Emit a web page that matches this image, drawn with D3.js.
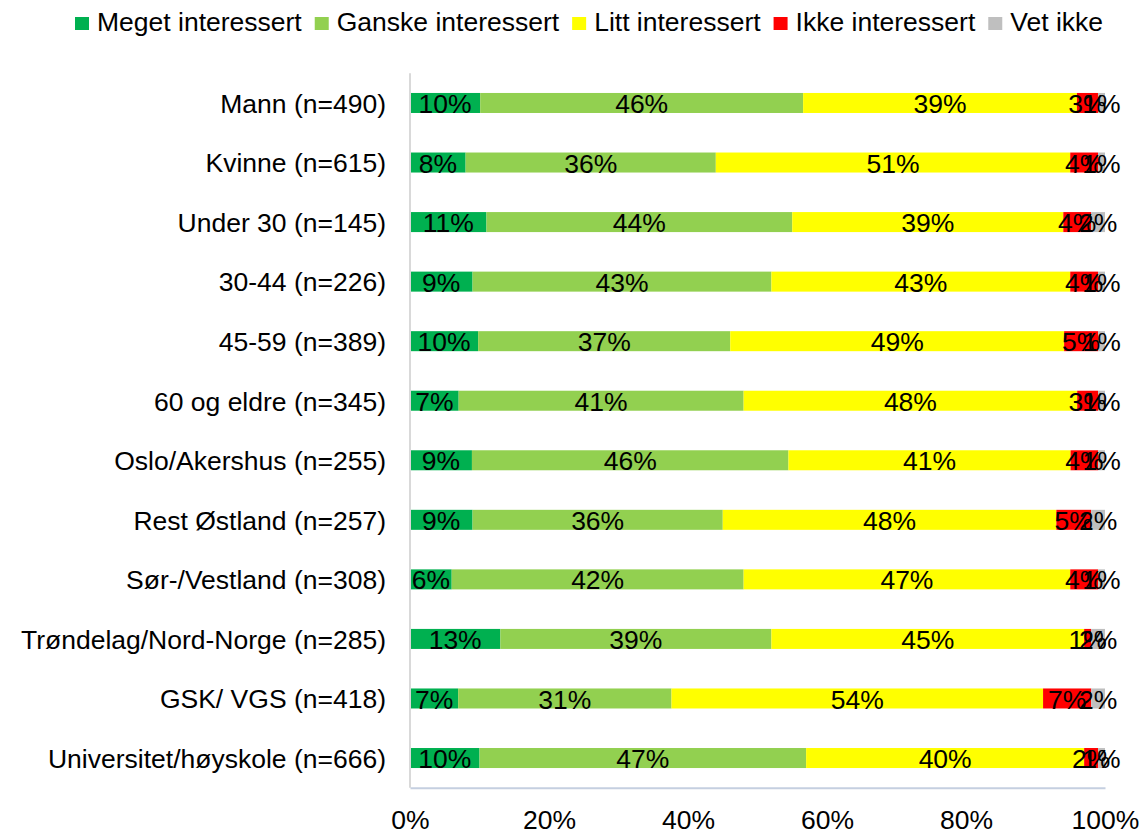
<!DOCTYPE html>
<html>
<head>
<meta charset="utf-8">
<script src="https://cdn.jsdelivr.net/npm/d3@7"></script>
<style>
  html, body { margin: 0; padding: 0; background: #ffffff; }
  svg { display: block; font-family: "Liberation Sans", Arial, sans-serif; }
</style>
</head>
<body>
<svg id="chart" width="1142" height="834"></svg>
<script>
const categories = [
  "Mann (n=490)",
  "Kvinne (n=615)",
  "Under 30 (n=145)",
  "30-44 (n=226)",
  "45-59 (n=389)",
  "60 og eldre (n=345)",
  "Oslo/Akershus (n=255)",
  "Rest Østland (n=257)",
  "Sør-/Vestland (n=308)",
  "Trøndelag/Nord-Norge (n=285)",
  "GSK/ VGS (n=418)",
  "Universitet/høyskole (n=666)"
];
const seriesNames = ["Meget interessert", "Ganske interessert", "Litt interessert", "Ikke interessert", "Vet ikke"];
const meget  = [10, 8, 11, 9, 10, 7, 9, 9, 6, 13, 7, 10];
const ganske = [46, 36, 44, 43, 37, 41, 46, 36, 42, 39, 31, 47];
const litt   = [39, 51, 39, 43, 49, 48, 41, 48, 47, 45, 54, 40];
const ikke   = [3, 4, 4, 4, 5, 3, 4, 5, 4, 1, 7, 2];
const vetIkke = [1, 1, 2, 1, 1, 1, 1, 2, 1, 2, 2, 1];
const tickValues = [0, 0.2, 0.4, 0.6, 0.8, 1.0];
const colors = ["#00B050", "#92D050", "#FFFF00", "#FF0000", "#BFBFBF"];

const seriesArrays = [meget, ganske, litt, ikke, vetIkke];
const rows = categories.map((c, i) => {
  const r = { cat: c };
  seriesNames.forEach((s, k) => { r[s] = seriesArrays[k][i]; });
  return r;
});

const svg = d3.select("#chart");
const fontSize = 26.5;
const plotLeft = 410, plotRight = 1105, plotTop = 73.2, plotBottom = 787.8;

const x = d3.scaleLinear().domain([0, 1]).range([plotLeft, plotRight]);
const y = d3.scaleBand().domain(categories).range([plotTop, plotBottom]).paddingInner(0.664).paddingOuter(0.332);

const stack = d3.stack().keys(seriesNames).offset(d3.stackOffsetExpand);
const stacked = stack(rows);

// bars
const groups = svg.append("g").selectAll("g")
  .data(stacked).join("g")
  .attr("fill", (d, i) => colors[i]);

groups.selectAll("rect")
  .data(d => d.map(v => ({ v, cat: v.data.cat })))
  .join("rect")
  .attr("x", d => x(d.v[0]))
  .attr("y", d => y(d.cat))
  .attr("width", d => x(d.v[1]) - x(d.v[0]))
  .attr("height", y.bandwidth());

// vertical category axis line
svg.append("line")
  .attr("x1", plotLeft).attr("x2", plotLeft)
  .attr("y1", plotTop).attr("y2", plotBottom)
  .attr("stroke", "#d9d9d9").attr("stroke-width", 2);

// horizontal value axis
const xAxis = d3.axisBottom(x).tickValues(tickValues).tickFormat(d3.format(".0%")).tickSize(0).tickPadding(0);
const ax = svg.append("g").attr("transform", `translate(0,${plotBottom})`).call(xAxis);
ax.select(".domain").attr("stroke", "#c5cfe0").attr("stroke-width", 2);
ax.selectAll("text")
  .attr("y", 32)
  .attr("dy", "0.35em")
  .attr("fill", "#000")
  .style("font-size", fontSize + "px")
  .style("font-family", '"Liberation Sans", Arial, sans-serif');

// category labels
const yAxis = d3.axisLeft(y).tickSize(0).tickPadding(0);
const ay = svg.append("g").attr("transform", `translate(386,0)`).call(yAxis);
ay.select(".domain").remove();
ay.selectAll("text")
  .attr("dy", "0.37em")
  .attr("fill", "#000")
  .style("font-size", fontSize + "px")
  .style("font-family", '"Liberation Sans", Arial, sans-serif');

// data labels
stacked.forEach((layer, k) => {
  svg.append("g").selectAll("text")
    .data(layer)
    .join("text")
    .attr("x", d => (x(d[0]) + x(d[1])) / 2)
    .attr("y", d => y(d.data.cat) + y.bandwidth() / 2)
    .attr("dy", "0.38em")
    .attr("text-anchor", "middle")
    .attr("fill", "#000")
    .style("font-size", fontSize + "px")
    .text(d => d.data[layer.key] + "%");
});

// legend
const legend = svg.append("g");
let lx = 75;
seriesNames.forEach((s, k) => {
  legend.append("rect")
    .attr("x", lx).attr("y", 17)
    .attr("width", 14).attr("height", 13)
    .attr("fill", colors[k]);
  const t = legend.append("text")
    .attr("x", lx + 22).attr("y", 31)
    .attr("fill", "#000")
    .style("font-size", fontSize + "px")
    .text(s);
  lx += 22 + t.node().getComputedTextLength() + 13;
});
</script>
</body>
</html>
